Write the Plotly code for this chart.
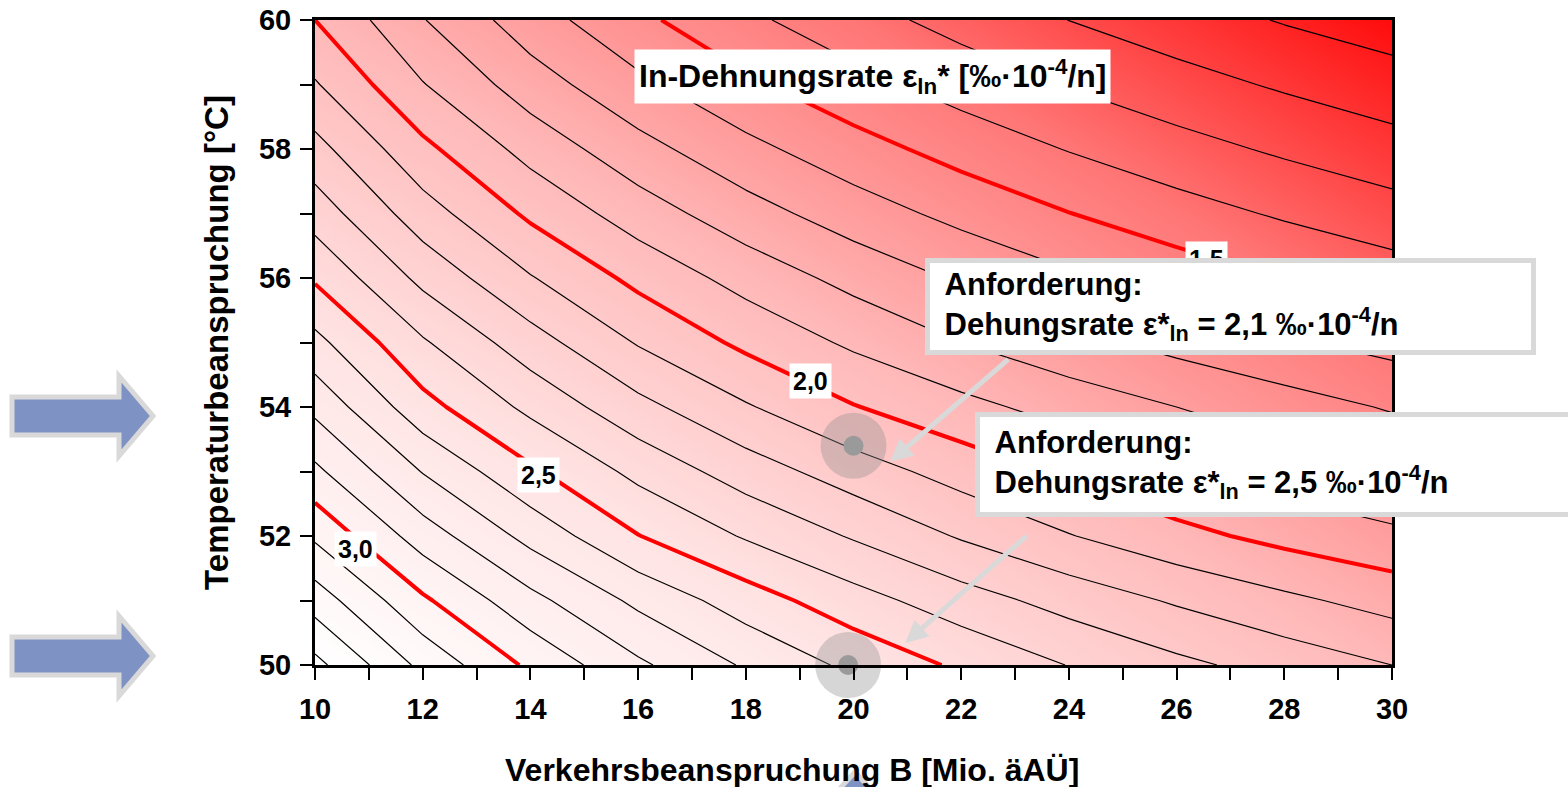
import plotly.graph_objects as go

# ---------------- data ----------------
B_values = [10, 12, 14, 16, 18, 20, 22, 24, 26, 28, 30]      # Verkehrsbeanspruchung B [Mio. äAÜ]
T_values = [50, 51, 52, 53, 54, 55, 56, 57, 58, 59, 60]      # Temperaturbeanspruchung [°C]

# ln-Dehnungsrate at each (B, T) grid node, one list per temperature row
rate_T50 = [3.430, 3.173, 2.980, 2.818, 2.688, 2.576, 2.483, 2.397, 2.324, 2.260, 2.200]
rate_T51 = [3.254, 3.017, 2.830, 2.677, 2.549, 2.440, 2.345, 2.262, 2.188, 2.122, 2.062]
rate_T52 = [3.083, 2.851, 2.668, 2.503, 2.390, 2.290, 2.190, 2.105, 2.030, 1.970, 1.924]
rate_T53 = [2.922, 2.695, 2.517, 2.372, 2.251, 2.149, 2.059, 1.982, 1.912, 1.851, 1.795]
rate_T54 = [2.774, 2.535, 2.375, 2.230, 2.110, 2.005, 1.930, 1.860, 1.800, 1.744, 1.691]
rate_T55 = [2.629, 2.412, 2.243, 2.092, 1.977, 1.882, 1.800, 1.730, 1.668, 1.614, 1.565]
rate_T56 = [2.487, 2.273, 2.107, 1.973, 1.862, 1.768, 1.687, 1.616, 1.554, 1.498, 1.448]
rate_T57 = [2.355, 2.144, 1.981, 1.850, 1.741, 1.649, 1.570, 1.502, 1.441, 1.387, 1.339]
rate_T58 = [2.234, 2.025, 1.864, 1.735, 1.628, 1.539, 1.462, 1.395, 1.336, 1.284, 1.237]
rate_T59 = [2.109, 1.905, 1.748, 1.622, 1.519, 1.433, 1.358, 1.294, 1.237, 1.187, 1.142]
rate_T60 = [2.000, 1.805, 1.645, 1.522, 1.420, 1.338, 1.265, 1.199, 1.145, 1.093, 1.050]
rate_grid = [rate_T50, rate_T51, rate_T52, rate_T53, rate_T54, rate_T55,
             rate_T56, rate_T57, rate_T58, rate_T59, rate_T60]

# contour levels
thin_levels = dict(start=1.1, end=3.4, size=0.1)
bold_levels = dict(start=1.5, end=3.0, size=0.5)

# labels of the bold contour lines
level_labels = ["1,5", "2,0", "2,5", "3,0"]
level_label_B = [26.55, 19.2, 14.15, 10.75]
level_label_T = [56.3, 54.4, 52.95, 51.8]

# requirement points
req_B = [20.0, 19.9]
req_T = [53.4, 50.0]
req_rate = ["2,1", "2,5"]

# background gradient (diagonal white -> red)
grad_B = [10, 30]
grad_T = [50, 60]
grad_level = [[0.0, 0.5], [0.5, 1.0]]

# ---------------- layout helpers (screen pixels) ----------------
OFF = 0                       # page body margin is removed by the post script
W, H = 1568 - OFF, 787 - OFF
L, R, TOP, BOT = 315, 1392, 20, 665   # plot area on screen


def px(xp, yp):
    return (xp - L) / (R - L), (BOT - yp) / (BOT - TOP)


def path_from(points):
    s = ""
    for i, (a, b) in enumerate(points):
        u, v = px(a, b)
        s += ("M" if i == 0 else "L") + f"{u:.5f},{v:.5f} "
    return s + "Z"


FONT = "Liberation Sans"

fig = go.Figure()

fig.add_trace(go.Contour(
    x=grad_B, y=grad_T, z=grad_level,
    contours=dict(coloring="heatmap", showlines=False, start=0, end=1, size=0.5),
    line=dict(width=0),
    colorscale=[[0.0, "rgb(255,255,255)"], [0.25, "rgb(255,228,228)"],
                [0.5, "rgb(255,184,184)"], [0.75, "rgb(255,118,118)"],
                [1.0, "rgb(255,12,12)"]],
    zmin=0, zmax=1, showscale=False, hoverinfo="skip",
))

fig.add_trace(go.Contour(
    x=B_values, y=T_values, z=rate_grid,
    contours=dict(coloring="none", **thin_levels),
    line=dict(color="black", width=1.2, smoothing=0),
    showscale=False, hoverinfo="skip",
))

fig.add_trace(go.Contour(
    x=B_values, y=T_values, z=rate_grid,
    contours=dict(coloring="none", **bold_levels),
    line=dict(color="#ff0000", width=4, smoothing=0),
    showscale=False, hoverinfo="skip",
))

fig.add_trace(go.Scatter(
    x=req_B, y=req_T, mode="markers",
    marker=dict(size=66, color="rgba(140,140,140,0.36)", line=dict(width=0)),
    cliponaxis=False, hoverinfo="skip", showlegend=False,
))
fig.add_trace(go.Scatter(
    x=req_B, y=req_T, mode="markers",
    marker=dict(size=20, color="#9a9a9a", line=dict(width=0)),
    cliponaxis=False, hoverinfo="skip", showlegend=False,
))

annotations = []
# contour level labels
for t, b, tt in zip(level_labels, level_label_B, level_label_T):
    annotations.append(dict(
        x=b, y=tt, xref="x", yref="y", text=t, showarrow=False,
        font=dict(family=FONT, size=25, color="black", weight="bold"),
        bgcolor="white", borderpad=3,
    ))

# grey arrows (tails hidden below the callout boxes)
arrow_heads = [(20.68, 53.15), (20.96, 50.34)]
arrow_tails = [(22.9, 54.76), (23.24, 52.02)]
for (hx, hy), (tx, ty) in zip(arrow_heads, arrow_tails):
    annotations.append(dict(
        x=hx, y=hy, ax=tx, ay=ty, xref="x", yref="y", axref="x", ayref="y",
        text="", showarrow=True, arrowhead=2, arrowsize=0.9, arrowwidth=5,
        arrowcolor="#d9d9d9",
    ))

# title box
tx, ty = px(872, 77)
annotations.append(dict(
    x=tx, y=ty, xref="paper", yref="paper", xanchor="center", yanchor="middle",
    text="In-Dehnungsrate ε<sub>ln</sub>* [‰·10<sup>-4</sup>/n]", showarrow=False,
    font=dict(family=FONT, size=32, color="black", weight="bold"),
    bgcolor="white", borderpad=4,
))

# callout boxes
callout_left = [925, 975]
callout_top = [258, 412]
callout_height = [75, 83]
for xl, yt, hh, r in zip(callout_left, callout_top, callout_height, req_rate):
    u, v = px(xl, yt)
    annotations.append(dict(
        x=u, y=v, xref="paper", yref="paper", xanchor="left", yanchor="top",
        text=(f"&nbsp;Anforderung:<br>&nbsp;Dehungsrate ε*<sub>ln</sub> = {r} "
              f"‰·10<sup>-4</sup>/n"),
        showarrow=False, align="left", valign="middle",
        width=589, height=hh,
        font=dict(family=FONT, size=31, color="black", weight="bold"),
        bgcolor="white", bordercolor="#d9d9d9", borderwidth=5, borderpad=6,
    ))

# x axis title as text below the tick labels
xt_u, xt_v = px(792, 770)
annotations.append(dict(
    x=xt_u, y=xt_v, xref="paper", yref="paper", xanchor="center", yanchor="middle",
    text="Verkehrsbeanspruchung B [Mio. äAÜ]", showarrow=False,
    font=dict(family=FONT, size=32, color="black", weight="bold"),
))

# blue block arrows outside the plot
shapes = []
for dy in (0, 240):
    pts = [(12, 397 + dy), (119, 397 + dy), (119, 376 + dy), (153, 416 + dy),
           (119, 456 + dy), (119, 435 + dy), (12, 435 + dy)]
    shapes.append(dict(type="path", xref="paper", yref="paper", path=path_from(pts),
                       fillcolor="#7f92c4", line=dict(color="#d9d9d9", width=5),
                       layer="above"))
pts = [(855, 772), (890, 810), (870, 810), (870, 840), (840, 840), (840, 810), (820, 810)]
shapes.append(dict(type="path", xref="paper", yref="paper", path=path_from(pts),
                   fillcolor="#7f92c4", line=dict(color="#d9d9d9", width=5),
                   layer="above"))

axis_common = dict(
    showgrid=False, zeroline=False, showline=True, linecolor="black", linewidth=3,
    mirror=True, ticks="outside", ticklen=12, tickwidth=2, tickcolor="black",
    tickfont=dict(family=FONT, size=29, color="black", weight="bold"),
    minor=dict(dtick=1, ticks="outside", ticklen=12, tickwidth=2, tickcolor="black"),
    automargin=False, ticklabeloverflow="allow",
)

fig.update_layout(
    width=W, height=H,
    margin=dict(l=L - OFF, r=W - (R - OFF), t=TOP - OFF, b=H - (BOT - OFF)),
    paper_bgcolor="white", plot_bgcolor="white",
    showlegend=False,
    xaxis=dict(range=[10, 30], dtick=2, tick0=10, ticklabelstandoff=4,
               **axis_common),
    yaxis=dict(range=[50, 60], dtick=2, tick0=50, ticklabelstandoff=3,
               title=dict(text="Temperaturbeanspruchung [°C]", standoff=21,
                          font=dict(family=FONT, size=33, color="black", weight="bold")),
               **axis_common),
    annotations=annotations,
    shapes=shapes,
)

fig.write_html(
    "out.html",
    config={"displayModeBar": False},
    post_script="document.body.style.margin='0px'; document.body.style.overflow='hidden';",
)
